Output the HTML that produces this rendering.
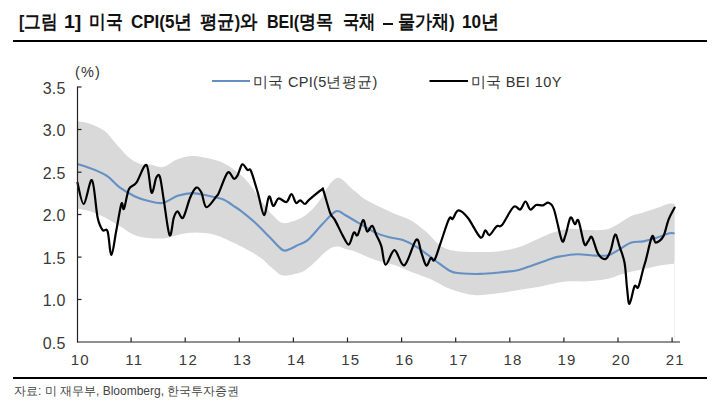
<!DOCTYPE html>
<html><head><meta charset="utf-8"><style>
html,body{margin:0;padding:0;background:#fff;}
body{width:718px;height:412px;overflow:hidden;position:relative;font-family:"Liberation Sans",sans-serif;}
k{font-size:19px;}
.ts{position:absolute;top:12px;line-height:20px;transform-origin:0 0;white-space:nowrap;}
.title{position:absolute;left:0;top:0;width:718px;height:40px;font-size:18px;font-weight:bold;color:#111;white-space:nowrap;letter-spacing:0px;}
.rule{position:absolute;left:13px;width:694px;height:2px;background:#000;}
.src{position:absolute;left:14px;top:383px;font-size:12px;color:#444;white-space:nowrap;}
svg{position:absolute;left:0;top:0;}
</style></head><body>
<div class="title"><span class="ts" style="left:19.12px;transform:scaleX(0.878)">[<k>그림</k></span><span class="ts" style="left:63.91px;transform:scaleX(1.086)">1]</span><span class="ts" style="left:89.32px;transform:scaleX(0.883)"><k>미국</k></span><span class="ts" style="left:130.76px;transform:scaleX(0.944)">CPI(5<k>년</k></span><span class="ts" style="left:200.09px;transform:scaleX(0.913)"><k>평균</k>)<k>와</k></span><span class="ts" style="left:266.71px;transform:scaleX(0.894)">BEI(<k>명목</k></span><span class="ts" style="left:342.54px;transform:scaleX(0.86)"><k>국채</k></span><div style="position:absolute;left:382.5px;top:23.3px;width:10px;height:2px;background:#111"></div><span class="ts" style="left:397.6px;transform:scaleX(0.9)"><k>물가채</k>)</span><span class="ts" style="left:461.65px;transform:scaleX(0.953)">10<k>년</k></span></div>
<div class="rule" style="top:40px"></div>
<svg width="718" height="412" viewBox="0 0 718 412">
<path d="M77.5 121.3C79.6 121.7 85.4 122.1 90.0 123.8C94.6 125.5 100.8 128.2 105.0 131.3C109.2 134.4 111.2 138.4 115.0 142.6C118.8 146.8 123.5 152.8 127.7 156.4C131.9 160.0 136.3 162.7 140.0 164.0C143.7 165.3 146.2 164.0 150.0 164.5C153.8 165.0 158.5 167.8 163.0 167.0C167.5 166.2 172.1 161.3 177.0 159.5C181.9 157.7 187.2 156.1 192.7 156.0C198.2 155.9 204.8 157.5 210.2 158.8C215.6 160.1 220.3 161.4 225.3 164.0C230.3 166.6 236.2 171.0 240.3 174.5C244.5 178.0 246.4 180.3 250.2 185.0C253.9 189.7 259.1 197.7 262.8 202.7C266.5 207.7 269.2 211.6 272.6 215.0C276.0 218.4 278.8 222.2 283.0 223.0C287.2 223.8 293.7 221.1 297.8 219.5C301.9 217.9 304.8 215.8 307.7 213.5C310.6 211.2 313.0 208.7 315.3 206.0C317.6 203.3 319.7 200.3 321.6 197.5C323.5 194.7 324.9 191.6 326.6 189.0C328.3 186.4 329.9 183.9 331.7 182.0C333.5 180.1 335.7 178.1 337.6 177.8C339.5 177.5 340.9 178.5 343.0 180.0C345.1 181.5 347.7 184.9 350.0 187.0C352.3 189.1 354.3 190.7 356.9 192.8C359.5 194.9 361.9 197.4 365.8 199.8C369.7 202.2 375.1 204.6 380.0 207.0C384.9 209.4 390.2 211.8 395.2 214.0C400.2 216.2 405.2 217.2 410.2 220.0C415.2 222.8 420.3 226.8 425.3 231.0C430.3 235.2 435.3 242.2 440.3 245.5C445.3 248.8 449.0 249.9 455.2 251.0C461.4 252.1 470.6 251.9 477.7 252.0C484.8 252.1 491.0 252.1 497.7 251.4C504.4 250.7 511.1 249.7 517.8 247.6C524.5 245.5 532.1 241.5 538.0 239.0C543.9 236.5 548.0 234.3 553.0 232.6C558.0 230.9 562.2 229.3 568.1 228.9C574.0 228.5 581.8 230.0 588.1 230.1C594.4 230.2 600.7 230.6 605.7 229.6C610.7 228.6 614.0 226.1 618.2 223.9C622.4 221.7 626.6 218.2 630.8 216.3C635.0 214.4 638.7 214.1 643.3 212.6C647.9 211.1 654.1 209.1 658.3 207.6C662.5 206.1 665.7 204.4 668.4 203.8C671.1 203.2 673.6 203.8 674.6 203.8L674.6 263.8C672.7 264.0 667.7 264.3 663.3 265.0C658.9 265.7 653.3 266.9 648.3 268.0C643.3 269.1 637.9 270.2 633.3 271.3C628.7 272.4 624.9 273.4 620.7 274.6C616.5 275.9 613.6 277.7 608.2 278.8C602.8 279.9 594.8 280.9 588.1 281.3C581.4 281.7 574.0 280.9 568.1 281.3C562.2 281.7 558.0 282.8 553.0 283.8C548.0 284.8 543.9 286.0 538.0 287.1C532.1 288.2 524.5 289.2 517.8 290.2C511.1 291.2 504.4 292.4 497.7 293.2C491.0 294.0 483.1 295.1 477.7 295.2C472.3 295.2 470.4 294.7 465.4 293.5C460.4 292.3 453.6 290.4 447.8 288.0C442.0 285.6 436.2 281.6 430.3 279.0C424.4 276.4 418.6 274.8 412.7 272.5C406.8 270.2 401.9 267.5 395.2 265.2C388.5 262.9 379.3 261.2 372.6 258.9C365.9 256.6 359.6 253.1 355.1 251.4C350.6 249.8 348.3 249.8 345.4 249.0C342.5 248.2 340.7 246.3 337.8 246.5C334.9 246.7 332.4 246.7 327.8 250.0C323.2 253.3 314.9 262.6 310.3 266.3C305.7 270.1 304.9 271.0 300.3 272.5C295.8 274.0 287.6 276.2 283.0 275.5C278.4 274.8 276.5 271.5 272.7 268.5C268.9 265.5 264.4 260.6 260.2 257.5C256.0 254.4 252.1 252.5 247.6 250.0C243.1 247.5 238.4 245.1 233.0 242.6C227.6 240.1 221.7 236.7 215.4 235.0C209.1 233.3 201.6 232.6 195.3 232.6C189.0 232.6 183.2 234.0 177.8 235.0C172.4 236.0 169.5 238.3 162.8 238.5C156.1 238.7 144.8 238.3 137.7 236.3C130.6 234.3 125.5 229.4 120.0 226.3C114.5 223.2 110.0 220.0 105.0 217.5C100.0 215.0 94.6 212.8 90.0 211.3C85.4 209.9 79.6 209.2 77.5 208.8Z" fill="#d9d9d9"/>
<path d="M77.5 163.9C80.4 164.9 90.0 167.9 95.0 170.0C100.0 172.1 103.4 173.5 107.6 176.4C111.8 179.3 115.4 184.3 120.0 187.7C124.6 191.0 130.4 194.3 135.0 196.5C139.6 198.7 143.1 199.6 147.7 200.7C152.3 201.8 157.5 203.8 162.5 203.0C167.5 202.2 172.6 197.5 177.6 195.8C182.6 194.2 187.6 193.1 192.7 193.1C197.8 193.1 203.0 194.8 208.0 195.8C213.0 196.8 218.2 197.4 222.8 199.3C227.4 201.2 231.9 204.8 235.3 207.0C238.7 209.2 239.7 209.9 243.0 212.5C246.3 215.1 250.5 218.4 255.0 222.6C259.5 226.8 265.4 233.0 270.0 237.6C274.6 242.2 279.2 248.1 282.6 250.0C286.0 251.9 287.6 249.7 290.1 248.9C292.6 248.1 294.8 246.6 297.7 245.1C300.6 243.6 303.5 243.6 307.7 240.1C311.9 236.6 318.0 228.6 322.7 223.8C327.4 219.0 332.3 212.8 336.0 211.3C339.7 209.8 341.3 213.1 345.0 215.0C348.7 216.9 352.9 219.7 358.0 222.6C363.1 225.5 370.0 230.1 375.4 232.6C380.8 235.1 385.8 236.3 390.4 237.6C395.0 238.8 398.4 238.4 403.0 240.1C407.6 241.8 412.3 244.2 417.7 247.6C423.1 251.0 429.8 256.6 435.2 260.5C440.6 264.4 446.0 268.9 450.2 271.0C454.4 273.1 455.1 272.7 460.1 273.2C465.1 273.7 473.9 274.0 480.2 273.9C486.5 273.8 491.4 273.3 497.7 272.7C504.0 272.1 511.9 271.4 517.8 270.2C523.6 268.9 527.4 267.1 532.8 265.2C538.2 263.3 545.8 260.4 550.4 258.9C555.0 257.4 556.0 257.2 560.4 256.4C564.8 255.6 571.1 254.4 577.0 254.3C582.9 254.2 590.5 255.4 595.7 255.6C600.9 255.8 604.5 256.1 608.2 255.2C612.0 254.3 614.4 252.3 618.2 250.2C622.0 248.1 626.6 244.2 630.8 242.7C635.0 241.2 639.1 242.2 643.3 241.4C647.5 240.6 651.6 239.4 655.8 238.1C660.0 236.8 665.3 234.2 668.4 233.4C671.5 232.6 673.6 233.4 674.6 233.4" fill="none" stroke="#6590c4" stroke-width="2.1" stroke-linejoin="round"/>
<path d="M77.5 182.7C78.5 186.2 81.4 204.4 83.8 204.0C86.2 203.6 89.7 177.9 92.0 180.2C94.3 182.4 95.8 209.2 97.6 217.5C99.4 225.8 100.9 227.7 102.6 230.0C104.3 232.3 106.1 227.1 107.6 231.3C109.1 235.5 109.9 255.2 111.4 255.0C112.9 254.8 114.7 238.5 116.4 230.0C118.1 221.5 120.1 207.3 121.4 203.8C122.7 200.3 122.7 211.3 124.0 208.8C125.3 206.3 126.9 193.3 129.0 189.0C131.1 184.7 133.5 186.7 136.4 182.7C139.3 178.7 144.0 163.3 146.5 165.0C149.0 166.7 149.9 190.6 151.5 192.7C153.1 194.8 154.9 180.2 156.3 177.6C157.7 175.0 158.8 173.3 160.0 177.1C161.2 180.9 162.2 190.5 163.8 200.2C165.4 209.9 167.9 232.3 169.6 235.2C171.3 238.1 172.5 221.7 173.8 217.7C175.1 213.7 176.1 211.4 177.6 211.4C179.1 211.4 181.0 220.0 183.1 217.7C185.2 215.4 187.9 202.7 190.1 197.7C192.3 192.7 194.5 188.4 196.4 187.6C198.3 186.8 199.7 189.3 201.4 192.6C203.1 195.9 203.9 206.6 206.4 207.2C208.9 207.8 214.3 198.8 216.4 196.4C218.5 194.0 217.0 196.6 218.9 192.6C220.8 188.6 225.2 174.9 227.7 172.6C230.2 170.3 232.3 178.4 234.0 178.8C235.7 179.2 236.3 177.5 237.7 175.1C239.1 172.7 240.7 165.2 242.3 164.3C243.9 163.5 246.1 168.9 247.5 170.0C248.9 171.1 249.3 167.2 251.0 171.0C252.7 174.8 255.6 185.3 257.8 192.6C260.0 199.9 262.1 214.3 264.0 215.0C265.9 215.7 267.4 198.0 269.0 196.5C270.6 195.0 271.7 205.7 273.3 206.0C274.9 206.3 276.3 199.2 278.5 198.5C280.7 197.8 284.3 202.8 286.5 202.0C288.7 201.2 289.9 193.8 291.5 194.0C293.1 194.2 294.6 201.9 296.0 203.0C297.4 204.1 298.7 200.1 300.2 200.3C301.7 200.5 303.5 204.1 305.0 204.0C306.5 203.9 306.2 202.2 309.0 199.8C311.8 197.4 319.2 191.2 321.6 189.7C324.0 188.2 322.1 187.0 323.5 190.9C324.9 194.8 328.3 208.1 330.2 213.0C332.1 217.9 332.9 216.4 335.0 220.1C337.1 223.8 340.2 231.0 342.5 235.1C344.8 239.2 346.9 245.0 348.8 244.6C350.7 244.2 352.3 234.2 353.8 232.6C355.3 231.0 356.1 237.2 357.6 235.1C359.2 233.0 361.5 220.7 363.1 220.1C364.7 219.5 365.6 230.4 367.1 231.4C368.6 232.4 370.6 225.2 372.1 225.8C373.7 226.4 374.8 231.7 376.4 235.1C377.9 238.5 379.9 241.5 381.4 246.4C382.9 251.3 383.4 264.1 385.6 264.7C387.8 265.3 391.4 250.1 394.5 250.2C397.6 250.3 400.9 267.0 404.5 265.2C408.1 263.4 413.5 241.7 416.3 239.6C419.1 237.5 419.6 248.3 421.3 252.6C423.0 256.9 424.7 264.6 426.3 265.5C427.9 266.4 429.4 258.9 430.8 258.0C432.2 257.1 432.9 262.4 434.5 260.0C436.1 257.6 437.9 250.7 440.3 243.9C442.7 237.1 446.9 223.2 449.0 219.0C451.1 214.8 451.1 220.2 452.7 218.8C454.3 217.4 455.8 210.4 458.4 210.3C460.9 210.2 464.4 213.5 468.0 218.0C471.6 222.5 477.4 235.2 480.3 237.3C483.2 239.4 483.8 230.8 485.3 230.4C486.8 230.0 487.6 235.8 489.5 235.1C491.4 234.4 494.5 228.0 496.6 226.3C498.7 224.6 499.2 228.2 502.0 225.0C504.8 221.8 510.4 209.6 513.5 207.0C516.5 204.4 518.3 210.4 520.3 209.5C522.3 208.6 523.8 201.5 525.5 201.5C527.2 201.5 528.5 208.9 530.3 209.5C532.0 210.1 533.9 205.7 536.0 205.0C538.1 204.3 540.9 205.7 543.0 205.3C545.1 204.9 546.7 202.1 548.5 202.8C550.3 203.5 551.8 203.3 554.0 209.5C556.2 215.7 559.8 235.8 561.7 240.1C563.6 244.4 564.0 238.8 565.5 235.1C567.0 231.3 568.9 219.4 570.5 217.6C572.1 215.8 573.6 223.7 574.9 224.2C576.2 224.7 576.9 217.4 578.5 220.7C580.1 224.0 582.7 240.4 584.3 243.9C585.9 247.4 586.8 242.5 588.1 241.4C589.4 240.3 590.2 235.0 591.9 237.1C593.6 239.2 595.9 250.3 598.2 253.9C600.5 257.5 603.6 259.5 605.7 258.9C607.8 258.3 609.1 254.2 610.7 250.2C612.3 246.1 613.7 235.2 615.2 234.6C616.7 234.0 618.0 241.8 619.5 246.4C621.0 251.1 623.2 255.6 624.5 262.5C625.8 269.4 626.2 280.7 627.0 287.6C627.8 294.5 628.2 304.1 629.5 303.9C630.8 303.7 633.0 289.1 634.5 286.3C636.0 283.5 636.8 290.0 638.3 287.1C639.8 284.2 642.0 273.3 643.3 268.8C644.5 264.3 644.3 265.6 645.8 260.2C647.3 254.8 650.4 239.3 652.1 236.4C653.8 233.5 653.9 242.7 655.8 242.7C657.7 242.7 661.2 240.2 663.3 236.4C665.4 232.6 666.5 224.9 668.4 220.1C670.3 215.3 673.6 209.7 674.6 207.6" fill="none" stroke="#000" stroke-width="2.2" stroke-linejoin="round" stroke-linecap="round"/>
<line x1="674.5" y1="262" x2="674.5" y2="341" stroke="#f0f0f0" stroke-width="1"/>
<g stroke="#222" stroke-width="1.2" fill="none">
<line x1="77.5" y1="87" x2="77.5" y2="342.5"/>
<line x1="77" y1="342" x2="680" y2="342"/>
<line x1="77" y1="87.0" x2="81.5" y2="87.0"/><line x1="77" y1="129.5" x2="81.5" y2="129.5"/><line x1="77" y1="172.2" x2="81.5" y2="172.2"/><line x1="77" y1="214.5" x2="81.5" y2="214.5"/><line x1="77" y1="257.1" x2="81.5" y2="257.1"/><line x1="77" y1="299.5" x2="81.5" y2="299.5"/><line x1="131.1" y1="342" x2="131.1" y2="337.5"/><line x1="185.2" y1="342" x2="185.2" y2="337.5"/><line x1="239.3" y1="342" x2="239.3" y2="337.5"/><line x1="293.4" y1="342" x2="293.4" y2="337.5"/><line x1="347.5" y1="342" x2="347.5" y2="337.5"/><line x1="401.6" y1="342" x2="401.6" y2="337.5"/><line x1="455.7" y1="342" x2="455.7" y2="337.5"/><line x1="509.8" y1="342" x2="509.8" y2="337.5"/><line x1="563.9" y1="342" x2="563.9" y2="337.5"/><line x1="618.0" y1="342" x2="618.0" y2="337.5"/><line x1="672.1" y1="342" x2="672.1" y2="337.5"/>
</g>
<g font-family="Liberation Sans" font-size="16" letter-spacing="0.2" fill="#3a3a3a" text-anchor="end"><text x="65.5" y="93.5">3.5</text><text x="65.5" y="136.0">3.0</text><text x="65.5" y="178.7">2.5</text><text x="65.5" y="221.0">2.0</text><text x="65.5" y="263.6">1.5</text><text x="65.5" y="306.0">1.0</text><text x="65.5" y="348.5">0.5</text></g>
<g font-family="Liberation Sans" font-size="15" letter-spacing="1.2" fill="#3a3a3a" text-anchor="middle"><text x="80.2" y="364.6">10</text><text x="134.3" y="364.6">11</text><text x="188.4" y="364.6">12</text><text x="242.5" y="364.6">13</text><text x="296.6" y="364.6">14</text><text x="350.7" y="364.6">15</text><text x="404.8" y="364.6">16</text><text x="458.9" y="364.6">17</text><text x="513.0" y="364.6">18</text><text x="567.1" y="364.6">19</text><text x="621.2" y="364.6">20</text><text x="675.3" y="364.6">21</text></g>
<text x="75" y="77" font-family="Liberation Sans" font-size="14.5" letter-spacing="1.2" fill="#333">(%)</text>
<line x1="212" y1="81" x2="250" y2="81" stroke="#6590c4" stroke-width="2"/>
<text x="253" y="87" font-family="Liberation Sans" font-size="14.5" letter-spacing="0.3" fill="#333">미국 CPI(5년평균)</text>
<line x1="429.5" y1="81" x2="468" y2="81" stroke="#000" stroke-width="2"/>
<text x="470.5" y="87" font-family="Liberation Sans" font-size="14.5" letter-spacing="0.4" fill="#333">미국 BEI 10Y</text>
</svg>
<div class="rule" style="top:377px"></div>
<div class="src">자료: 미 재무부, Bloomberg, 한국투자증권</div>
</body></html>
